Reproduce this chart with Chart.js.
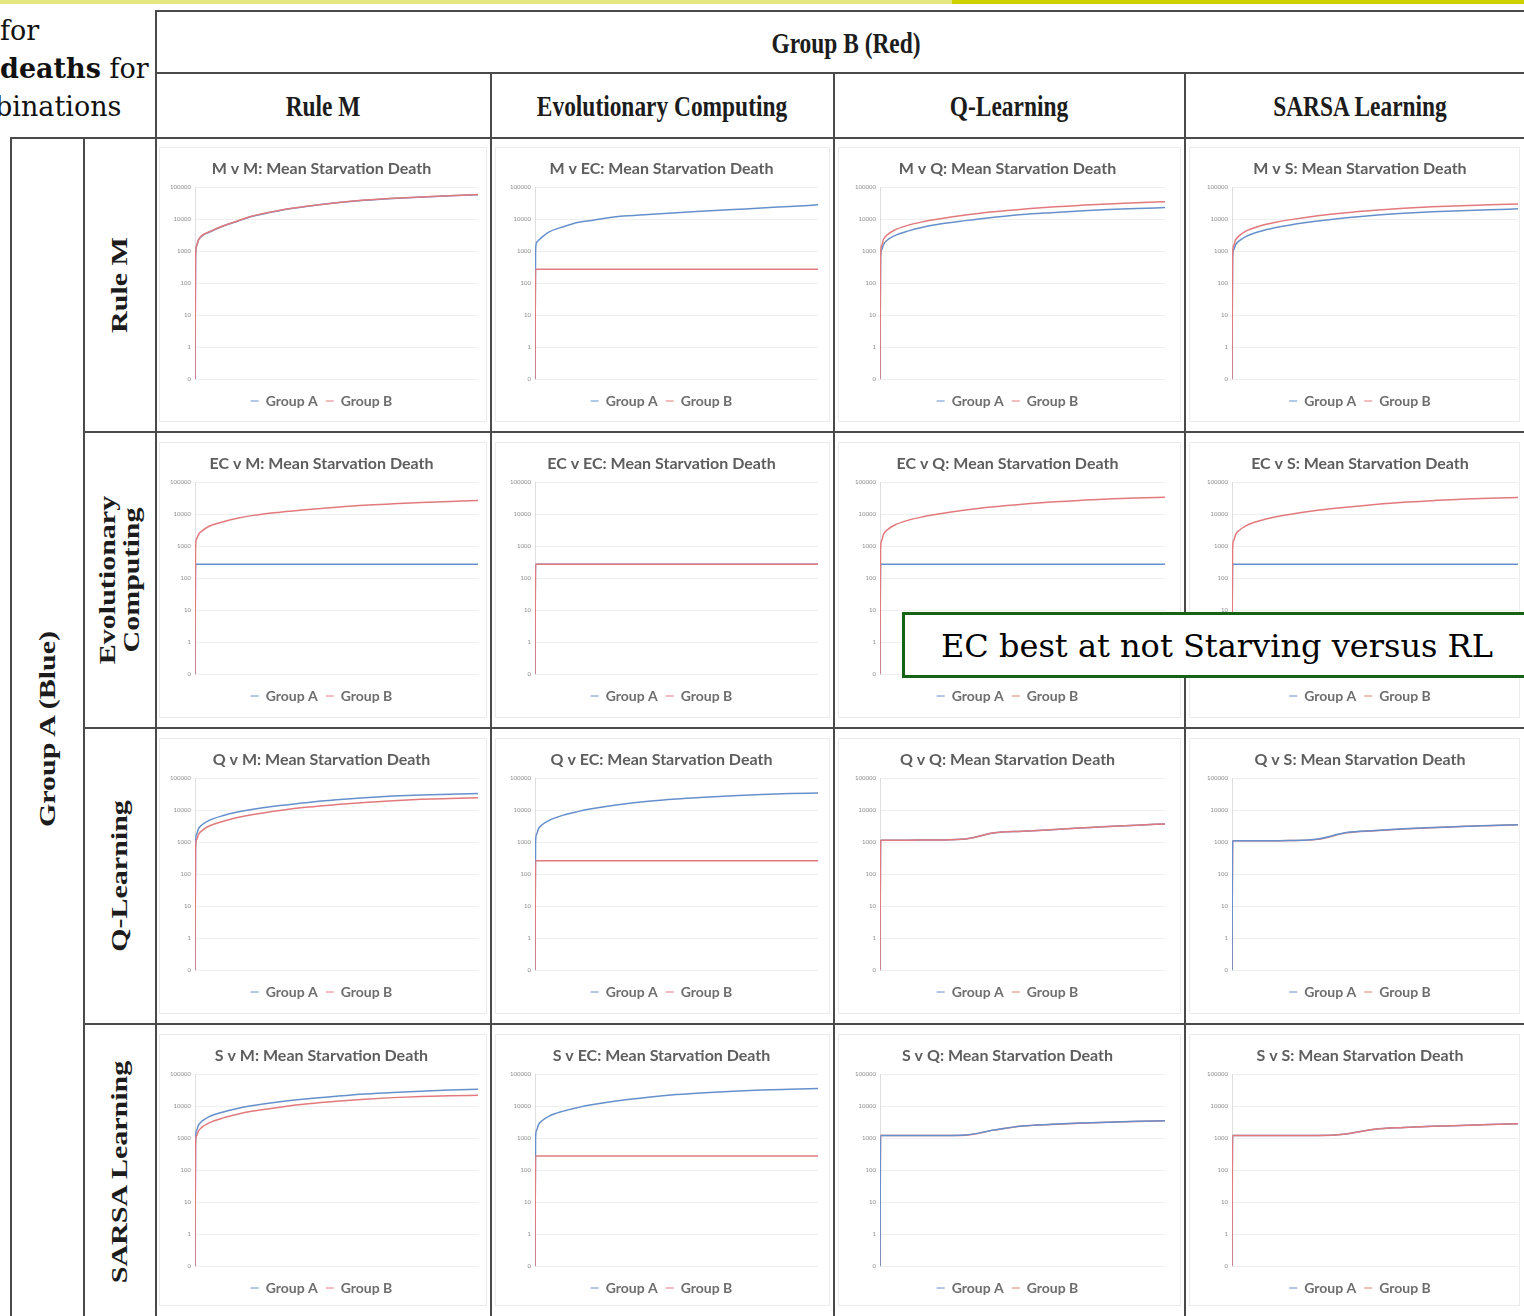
<!DOCTYPE html>
<html>
<head>
<meta charset="utf-8">
<title>Mean Starvation Death</title>
<script src="https://cdn.jsdelivr.net/npm/chart.js@4.4.1/dist/chart.umd.min.js"></script>
<style>
  body { margin: 0; width: 1524px; height: 1316px; overflow: hidden; background: #fff; position: relative; }
  .bar { position: absolute; top: 0; height: 4px; }
  .hl { position: absolute; height: 2px; background: #4a4a4a; }
  .vl { position: absolute; width: 2px; background: #4a4a4a; }
  .hdr { position: absolute; font-family: "Liberation Serif", serif; font-weight: bold; font-size: 30px; color: #1c1c1c;
         white-space: nowrap; line-height: 30px; transform: translate(-50%, -50%) scaleX(0.78); }
  .vhdr { position: absolute; font-family: "Liberation Serif", serif; font-weight: bold; font-size: 30px; color: #1c1c1c;
          white-space: nowrap; line-height: 30px; text-align: center; transform: translate(-50%, -50%) rotate(-90deg) scale(1, 0.78); }
  .slide { position: absolute; font-family: "DejaVu Serif", serif; font-size: 27px; color: #111; white-space: nowrap; line-height: 30px; }
  .frame { position: absolute; border: 1px solid #ececec; }
  canvas { position: absolute; }
  #note { position: absolute; left: 902px; top: 612px; width: 640px; height: 60px; border: 3px solid #166216; background: #fff; }
  #note span { position: absolute; left: 36px; top: 13px; font-family: "DejaVu Serif", serif; font-size: 32px; color: #000; white-space: nowrap; line-height: 36px; }
</style>
</head>
<body>
<div class="bar" style="left:0;width:952px;background:#e4e680"></div>
<div class="bar" style="left:952px;width:572px;background:#cfd000"></div>

<div class="slide" style="left:0;top:16px">for</div>
<div class="slide" style="left:0;top:54px"><b>deaths</b> for</div>
<div class="slide" style="left:-5px;top:92px">binations</div>

<div id="grid"></div>
<div id="note"><span>EC best at not Starving versus RL</span></div>

<script>
// time steps (x) and the log-scale ticks shown on every small chart
const timeSteps = [0, 2, 6, 12, 25, 50, 100, 150, 200, 300, 400, 500, 600, 700, 800, 900, 1000];
const yTicks = [0.1, 1, 10, 100, 1000, 10000, 100000];
const yTickLabels = ['0', '1', '10', '100', '1000', '10000', '100000'];

const algorithms = ['Rule M', 'Evolutionary Computing', 'Q-Learning', 'SARSA Learning'];
const shortNames = ['M', 'EC', 'Q', 'S'];

// row = Group A (blue), column = Group B (red)
const mvmA = [0.1, 700, 1500, 2200, 3000, 3900, 6100, 8600, 12100, 18600, 25300, 32400, 39000, 44400, 49000, 54000, 58500];
const mvmB = [0.1, 700, 1500, 2250, 3100, 4000, 6200, 8800, 12300, 18900, 25700, 32800, 39500, 45000, 49500, 54500, 59000];
const mvecA = [0.1, 1000, 1900, 2140, 2750, 3990, 5800, 7900, 9160, 12240, 14100, 16000, 17900, 20000, 22250, 25000, 28000];
const mvecB = [0.1, 270, 270, 270, 270, 270, 270, 270, 270, 270, 270, 270, 270, 270, 270, 270, 270];
const mvqA = [0.1, 600, 1100, 1600, 2200, 3000, 4300, 5600, 6800, 9000, 11500, 14000, 16000, 18000, 20000, 21500, 23000];
const mvqB = [0.1, 800, 1500, 2300, 3200, 4500, 6500, 8300, 10000, 13500, 17000, 20500, 24000, 27000, 30000, 32500, 35000];
const mvsA = [0.1, 600, 1100, 1550, 2100, 2900, 4200, 5400, 6500, 8700, 11000, 13300, 15300, 17000, 18500, 19800, 21000];
const mvsB = [0.1, 800, 1500, 2200, 3000, 4300, 6200, 7900, 9500, 12800, 16000, 19000, 22000, 24500, 26500, 28000, 30000];

const ecvmA = [0.1, 270, 270, 270, 270, 270, 270, 270, 270, 270, 270, 270, 270, 270, 270, 270, 270];
const ecvmB = [0.1, 900, 1700, 2300, 3000, 4200, 5800, 7500, 9000, 11500, 14000, 16500, 19000, 21000, 23000, 25000, 27000];
const ecvecA = [0.1, 270, 270, 270, 270, 270, 270, 270, 270, 270, 270, 270, 270, 270, 270, 270, 270];
const ecvecB = [0.1, 270, 270, 270, 270, 270, 270, 270, 270, 270, 270, 270, 270, 270, 270, 270, 270];
const ecvqA = [0.1, 270, 270, 270, 270, 270, 270, 270, 270, 270, 270, 270, 270, 270, 270, 270, 270];
const ecvqB = [0.1, 800, 1500, 2300, 3200, 4500, 6500, 8300, 10000, 13500, 17000, 20500, 24000, 27000, 30000, 32000, 34000];
const ecvsA = [0.1, 270, 270, 270, 270, 270, 270, 270, 270, 270, 270, 270, 270, 270, 270, 270, 270];
const ecvsB = [0.1, 800, 1500, 2250, 3100, 4400, 6300, 8100, 9800, 13200, 16500, 20000, 23500, 26500, 29500, 31500, 33500];

const qvmA = [0.1, 1000, 1800, 2600, 3500, 4800, 6800, 8700, 10500, 14000, 17500, 21000, 24500, 27500, 30000, 31500, 33000];
const qvmB = [0.1, 700, 1200, 1700, 2300, 3200, 4500, 5900, 7200, 9800, 12500, 15000, 17500, 19800, 21800, 23200, 24500];
const qvecA = [0.1, 1000, 1800, 2600, 3500, 4800, 7000, 9000, 11000, 15000, 19000, 22500, 25500, 28500, 31000, 33000, 34500];
const qvecB = [0.1, 260, 260, 260, 260, 260, 260, 260, 260, 260, 260, 260, 260, 260, 260, 260, 260];
const qvqA = [0.1, 1100, 1150, 1150, 1150, 1150, 1150, 1160, 1170, 1250, 1950, 2200, 2450, 2750, 3100, 3400, 3700];
const qvqB = [0.1, 1100, 1150, 1150, 1150, 1150, 1150, 1160, 1170, 1250, 1950, 2200, 2450, 2750, 3100, 3400, 3700];
const qvsA = [0.1, 1050, 1100, 1100, 1100, 1100, 1100, 1110, 1120, 1250, 2000, 2300, 2600, 2850, 3100, 3300, 3500];
const qvsB = [0.1, 1050, 1100, 1100, 1100, 1100, 1100, 1110, 1120, 1220, 1950, 2280, 2580, 2830, 3080, 3280, 3480];

const svmA = [0.1, 1000, 1800, 2550, 3400, 4700, 6600, 8500, 10300, 13800, 17200, 20500, 24000, 27000, 29500, 32000, 34000];
const svmB = [0.1, 700, 1200, 1650, 2200, 3000, 4300, 5600, 6900, 9300, 11800, 14200, 16500, 18500, 20000, 21000, 22000];
const svecA = [0.1, 1000, 1800, 2600, 3500, 4900, 7000, 9000, 11000, 15000, 19000, 23000, 26500, 29500, 32000, 34000, 36000];
const svecB = [0.1, 275, 275, 275, 275, 275, 275, 275, 275, 275, 275, 275, 275, 275, 275, 275, 275];
const svqA = [0.1, 1200, 1200, 1200, 1200, 1200, 1200, 1200, 1200, 1250, 1800, 2400, 2700, 2950, 3150, 3350, 3500];
const svqB = [0.1, 1200, 1200, 1200, 1200, 1200, 1200, 1200, 1200, 1230, 1780, 2380, 2680, 2930, 3130, 3330, 3480];
const svsA = [0.1, 1200, 1200, 1200, 1200, 1200, 1200, 1200, 1200, 1200, 1350, 1900, 2150, 2350, 2500, 2650, 2800];
const svsB = [0.1, 1200, 1200, 1200, 1200, 1200, 1200, 1200, 1200, 1200, 1350, 1900, 2150, 2350, 2500, 2650, 2800];

const groupA = [
  [mvmA, mvecA, mvqA, mvsA],
  [ecvmA, ecvecA, ecvqA, ecvsA],
  [qvmA, qvecA, qvqA, qvsA],
  [svmA, svecA, svqA, svsA]
];
const groupB = [
  [mvmB, mvecB, mvqB, mvsB],
  [ecvmB, ecvecB, ecvqB, ecvsB],
  [qvmB, qvecB, qvqB, qvsB],
  [svmB, svecB, svqB, svsB]
];

// layout of the table
const colEdges = [155, 491, 834, 1185, 1524];
const rowEdges = [137, 432, 728, 1024, 1316];
const colCentres = [323, 662, 1009, 1360];
const rowCentres = [285, 580, 876, 1172];
const plotInsetL = [36, 40, 42, 43];
const plotInsetR = [9, 12, 16, 2];
const blueOnTop = [[false, false, false, false], [false, false, false, false],
                   [false, false, false, true], [false, false, true, false]];

const BLUE = '#6690cb';
const RED = '#e27a7d';
const grid = document.getElementById('grid');

function addLine(cls, left, top, size) {
  const d = document.createElement('div');
  d.className = cls;
  d.style.left = left + 'px';
  d.style.top = top + 'px';
  if (cls === 'hl') d.style.width = size + 'px'; else d.style.height = size + 'px';
  grid.appendChild(d);
}

function addText(cls, x, y, html) {
  const d = document.createElement('div');
  d.className = cls;
  d.style.left = x + 'px';
  d.style.top = y + 'px';
  d.innerHTML = html;
  grid.appendChild(d);
}

// table rules
addLine('hl', 155, 10, 1369);
addLine('hl', 155, 72, 1369);
addLine('hl', 10, 137, 1514);
for (let r = 1; r < 4; r++) addLine('hl', 83, rowEdges[r] - 1, 1441);
addLine('vl', 155, 10, 1306);
addLine('vl', 10, 137, 1179);
addLine('vl', 83, 137, 1179);
for (let c = 1; c < 4; c++) addLine('vl', colEdges[c] - 1, 72, 1244);

// headers
addText('hdr', 846, 43, 'Group B (Red)');
algorithms.forEach((a, i) => addText('hdr', colCentres[i], 106, a));
addText('vhdr', 47, 729, 'Group A (Blue)');
algorithms.forEach((a, i) => {
  const txt = a === 'Evolutionary Computing' ? 'Evolutionary<br>Computing' : a;
  addText('vhdr', 119, rowCentres[i], txt);
});

for (let r = 0; r < 4; r++) {
  for (let c = 0; c < 4; c++) {
    const left = colEdges[c] + 4;
    const top = rowEdges[r] + 8;
    const w = colEdges[c + 1] - colEdges[c] - 8;
    const h = 284;

    const frame = document.createElement('div');
    frame.className = 'frame';
    frame.style.left = left + 'px';
    frame.style.top = (top + 2) + 'px';
    frame.style.width = (w - 2) + 'px';
    frame.style.height = (rowEdges[r + 1] - rowEdges[r] - 22) + 'px';
    grid.appendChild(frame);

    const cv = document.createElement('canvas');
    cv.width = w;
    cv.height = h;
    cv.style.left = left + 'px';
    cv.style.top = top + 'px';
    grid.appendChild(cv);

    const aTop = blueOnTop[r][c];
    new Chart(cv, {
      type: 'line',
      data: {
        datasets: [
          {
            label: 'Group A',
            data: timeSteps.map((t, i) => ({ x: t, y: groupA[r][c][i] })),
            borderColor: BLUE,
            backgroundColor: BLUE,
            order: aTop ? 0 : 1
          },
          {
            label: 'Group B',
            data: timeSteps.map((t, i) => ({ x: t, y: groupB[r][c][i] })),
            borderColor: RED,
            backgroundColor: RED,
            order: aTop ? 1 : 0
          }
        ]
      },
      options: {
        responsive: false,
        animation: false,
        layout: { padding: { left: plotInsetL[c] - 30, right: plotInsetR[c], top: 0, bottom: 11 } },
        elements: {
          point: { radius: 0 },
          line: { borderWidth: 1.5, cubicInterpolationMode: 'monotone' }
        },
        plugins: {
          title: {
            display: true,
            text: shortNames[r] + ' v ' + shortNames[c] + ': Mean Starvation Death',
            color: '#5e5e5e',
            font: { family: 'Lato', size: 16, weight: 'bold' },
            padding: { top: 14, bottom: 9 }
          },
          legend: {
            position: 'bottom',
            labels: {
              usePointStyle: true,
              pointStyle: 'line',
              pointStyleWidth: 8,
              color: '#6e6e6e',
              font: { family: 'Lato', size: 14, weight: 'bold' },
              padding: 8,
              sort: (a, b) => a.datasetIndex - b.datasetIndex
            }
          },
          tooltip: { enabled: false }
        },
        scales: {
          x: {
            type: 'linear',
            min: 0,
            max: 1000,
            ticks: { display: false },
            grid: { display: false },
            border: { display: false },
            afterFit: s => { s.height = 7; }
          },
          y: {
            type: 'logarithmic',
            min: 0.1,
            max: 100000,
            afterBuildTicks: s => { s.ticks = yTicks.map(v => ({ value: v })); },
            afterFit: s => { s.width = 30; },
            ticks: {
              font: { family: 'Lato', size: 6 },
              color: '#8a8a8a',
              padding: 4,
              callback: (v, i) => yTickLabels[i]
            },
            grid: { color: '#efefef', drawTicks: false },
            border: { display: true, color: '#dedede' }
          }
        }
      }
    });
  }
}
</script>
</body>
</html>
